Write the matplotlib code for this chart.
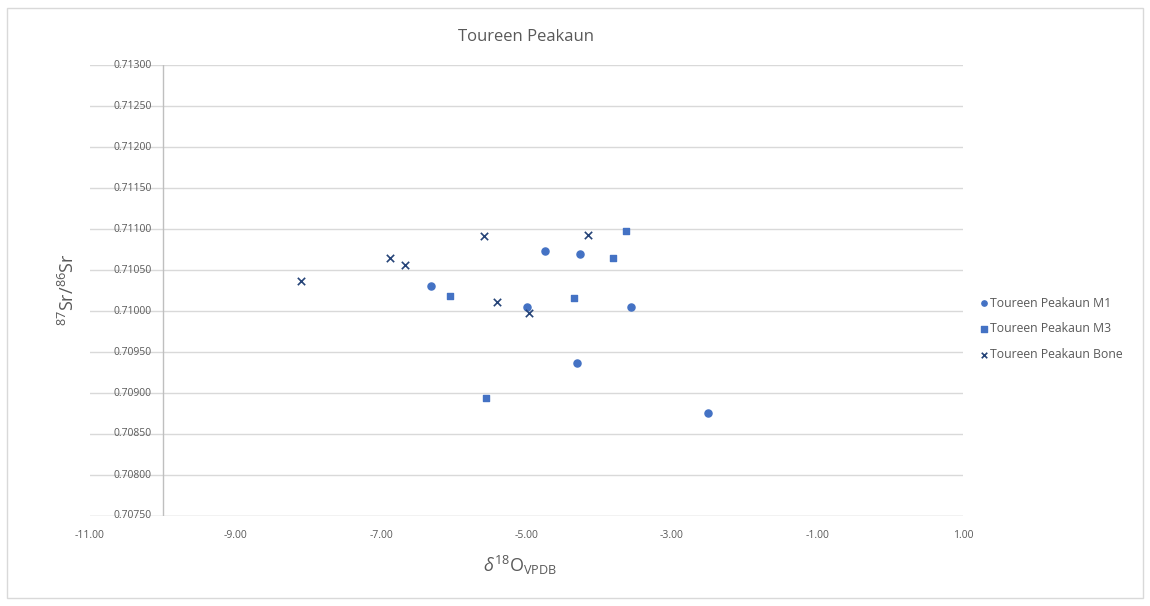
import matplotlib.pyplot as plt
import matplotlib.patches as patches
import numpy as np

plt.rcParams['font.family'] = ['Open Sans', 'DejaVu Sans']
plt.rcParams['mathtext.fontset'] = 'custom'
plt.rcParams['mathtext.rm'] = 'Open Sans'
plt.rcParams['mathtext.it'] = 'Open Sans:italic'

# Data
m1_d18o = [-6.31, -4.75, -4.27, -4.99, -3.57, -4.31, -2.51]
m1_sr = [0.71030, 0.71073, 0.71070, 0.71005, 0.71005, 0.70936, 0.70876]

m3_d18o = [-6.05, -5.56, -4.35, -3.81, -3.63]
m3_sr = [0.71018, 0.70894, 0.71016, 0.71065, 0.71098]

bone_d18o = [-8.10, -6.88, -6.67, -5.58, -5.41, -4.97, -4.16]
bone_sr = [0.71036, 0.71065, 0.71056, 0.71091, 0.71011, 0.70998, 0.71093]

x_ticks = [-11, -9, -7, -5, -3, -1, 1]
y_ticks = np.arange(0.7075, 0.71301, 0.0005)

text_col = '#595959'
grid_col = '#D9D9D9'
blue = '#4472C4'
navy = '#264478'

fig = plt.figure(figsize=[11.5, 6.06], dpi=100)
ax = fig.add_axes([90/1150, 1 - 516/606, 873/1150, 451/606])

# outer chart border
fig.patches.append(patches.Rectangle((7/1150, 1 - 598/606), 1136/1150, 590/606,
                                     transform=fig.transFigure, fill=False,
                                     edgecolor='#D9D9D9', linewidth=1))

ax.set_xlim(-11, 1)
ax.set_ylim(0.7075, 0.7130)
for s in ax.spines.values():
    s.set_visible(False)

# gridlines across full width
for v in y_ticks[1:]:
    ax.axhline(v, color=grid_col, linewidth=1, zorder=1)
ax.axhline(0.7075, color='#BFBFBF', linewidth=1, zorder=1)
# vertical axis crosses at -10
ax.axvline(-10, color='#BFBFBF', linewidth=1, zorder=1)

ax.set_yticks([])
ax.set_xticks(x_ticks)
ax.set_xticklabels([f'{v:.2f}' for v in x_ticks], fontsize=7.5, color=text_col)
ax.tick_params(axis='x', length=0, pad=10)
for v in y_ticks:
    ax.text(-10.15, v, f'{v:.5f}', ha='right', va='center', fontsize=7.5,
            color=text_col, zorder=3)

ax.scatter(m1_d18o, m1_sr, marker='o', s=26, color=blue, zorder=4,
           label='Toureen Peakaun M1')
ax.scatter(m3_d18o, m3_sr, marker='s', s=24, color=blue, zorder=4,
           label='Toureen Peakaun M3')
ax.scatter(bone_d18o, bone_sr, marker='x', s=28, color=navy, linewidths=1.2,
           zorder=4, label='Toureen Peakaun Bone')

fig.text(526/1150, 1 - 37/606, 'Toureen Peakaun', ha='center', va='center',
         fontsize=12, color=text_col)
fig.text(68/1150, 1 - 290/606, r'$^{87}$Sr/$^{86}$Sr', rotation=90,
         ha='center', va='center', fontsize=13, color=text_col)
fig.text(520/1150, 1 - 565/606, r'$\delta^{18}\mathrm{O}_{\mathrm{VPDB}}$',
         ha='center', va='center', fontsize=13, color=text_col)

ax.legend(loc='center left', bbox_to_anchor=(972/1150, 1 - 329/606),
          bbox_transform=fig.transFigure, frameon=False, fontsize=8.8,
          labelcolor=text_col, handletextpad=0.0, handlelength=1.0,
          labelspacing=1.05, borderpad=0, markerscale=0.75)

fig.savefig('out.png', dpi=100)
